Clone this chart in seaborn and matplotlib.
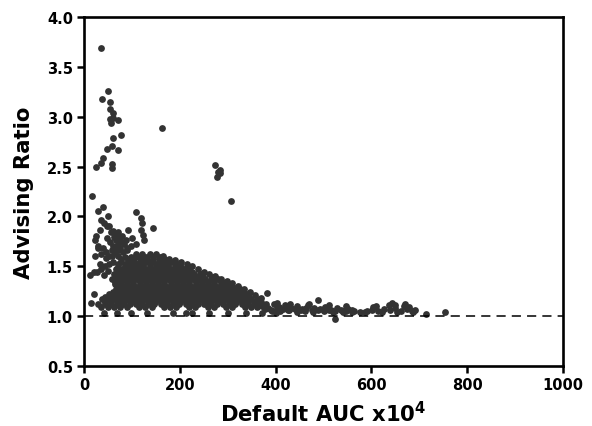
import numpy as np
import pandas as pd
import seaborn as sns
import matplotlib.pyplot as plt

# Values
# sparse points above the main cloud
sparse_x = [35, 51, 37, 54, 54, 61, 54, 61, 70, 56, 77, 60, 58, 49, 70, 40, 35, 25, 58, 59,
            163, 274, 283, 284, 277, 279, 306,
            16, 40, 30, 51, 109, 118, 36, 42, 48, 34, 122, 120, 145, 92, 124, 126, 60, 52, 72, 80, 100]
sparse_y = [3.69, 3.26, 3.18, 3.15, 3.08, 3.04, 2.98, 2.99, 2.97, 2.94, 2.82, 2.79, 2.71, 2.68, 2.67, 2.59, 2.54, 2.50, 2.53, 2.49,
            2.89, 2.52, 2.47, 2.44, 2.40, 2.45, 2.15,
            2.20, 2.09, 2.05, 2.00, 2.04, 1.98, 1.96, 1.93, 1.90, 1.86, 1.93, 1.86, 1.88, 1.86, 1.81, 1.76, 1.85, 1.90, 1.84, 1.80, 1.78]

# strands on the left of the cloud
left_x = [12, 20, 28, 35, 44, 52, 60, 24, 30, 22, 26, 30, 36, 48, 54, 60, 66, 70, 76, 84, 90, 98, 108, 64, 72, 58, 20, 14, 42, 50, 34, 45,
          56, 62, 68, 74, 80, 88, 66, 74, 82, 90, 40, 46, 52, 58]
left_y = [1.41, 1.44, 1.44, 1.47, 1.50, 1.52, 1.54, 1.60, 1.68, 1.76, 1.80, 1.70, 1.62, 1.78, 1.74, 1.70, 1.76, 1.72, 1.68, 1.72, 1.66, 1.70, 1.72, 1.64, 1.60, 1.60, 1.22, 1.13, 1.41, 1.45, 1.52, 1.58,
          1.84, 1.79, 1.82, 1.78, 1.74, 1.76, 1.68, 1.66, 1.64, 1.68, 1.68, 1.64, 1.60, 1.66]

# upper edge of the cloud, further right
edge_x = [165, 178, 190, 202, 214, 226, 238, 250, 262, 274, 286, 298, 310, 322, 334, 346, 358, 370,
          172, 196, 220, 244, 268, 292, 316, 340, 364]
edge_y = [1.60, 1.57, 1.56, 1.54, 1.52, 1.50, 1.47, 1.44, 1.42, 1.40, 1.37, 1.35, 1.33, 1.30, 1.27, 1.24, 1.21, 1.18,
          1.55, 1.52, 1.47, 1.42, 1.37, 1.33, 1.28, 1.22, 1.16]

# main cloud, one list per level
row_162 = [108, 122, 137, 150]
row_157 = [78, 92, 105, 118, 131, 144, 157, 168]
row_152 = [72, 85, 98, 110, 124, 137, 150, 163, 176, 189]
row_147 = [66, 79, 92, 104, 117, 130, 143, 156, 169, 182, 195, 208, 220]
row_142 = [62, 75, 88, 100, 113, 126, 139, 152, 165, 178, 191, 204, 217, 230, 243]
row_137 = [58, 71, 84, 97, 110, 123, 136, 149, 162, 175, 188, 201, 214, 227, 240, 253, 266, 279]
row_132 = [64, 77, 90, 103, 116, 129, 142, 155, 168, 181, 194, 207, 220, 233, 246, 259, 272, 285, 298]
row_127 = [66, 79, 92, 105, 118, 131, 144, 157, 170, 183, 196, 209, 222, 235, 248, 261, 274, 287, 300, 313, 325]
row_122 = [52, 65, 78, 91, 104, 117, 130, 143, 156, 169, 182, 195, 208, 221, 234, 247, 260, 273, 286, 299, 312, 325, 336]
row_117 = [38, 50, 63, 76, 89, 102, 115, 128, 141, 154, 167, 180, 193, 206, 219, 232, 245, 258, 271, 284, 297, 310, 323, 336, 349, 362]
row_112 = [30, 43, 56, 69, 82, 95, 108, 121, 134, 147, 160, 173, 186, 199, 212, 225, 238, 251, 264, 277, 290, 303, 316, 329, 342, 355, 368, 380]
row_103 = [42, 68, 98, 132, 186, 212, 226, 262, 300, 338, 372, 400]

# offset levels that close the gaps in the cloud
row_160 = [85, 98, 115, 130, 144, 158]
row_155 = [78, 91, 104, 117, 130, 143, 156, 170, 182]
row_150 = [72, 85, 98, 111, 124, 137, 150, 163, 176, 189, 202]
row_145 = [68, 81, 94, 107, 120, 133, 146, 159, 172, 185, 198, 211, 226]
row_140 = [66, 79, 92, 105, 118, 131, 144, 157, 170, 183, 196, 209, 222, 235, 248, 270]
row_135 = [64, 77, 90, 103, 116, 129, 142, 155, 168, 181, 194, 207, 220, 233, 246, 259, 272, 287]
row_130 = [70, 83, 96, 109, 122, 135, 148, 161, 174, 187, 200, 213, 226, 239, 252, 265, 278, 291, 304]
row_125 = [60, 72, 85, 98, 111, 124, 137, 150, 163, 176, 189, 202, 215, 228, 241, 254, 267, 280, 293, 306, 319, 332]
row_120 = [44, 58, 71, 84, 97, 110, 123, 136, 149, 162, 175, 188, 201, 214, 227, 240, 253, 266, 279, 292, 305, 318, 331, 344]
row_115 = [44, 57, 70, 83, 96, 109, 122, 135, 148, 161, 174, 187, 200, 213, 226, 239, 252, 265, 278, 291, 304, 317, 330, 343, 356, 370]
row_110 = [36, 50, 63, 76, 89, 115, 128, 141, 167, 180, 193, 219, 232, 258, 271, 297, 310, 336, 349, 362, 376]

# tail to the right
tail_x = [383, 489, 523, 714, 754, 642, 670, 692,
          372, 384, 396, 408, 420, 432, 444, 456, 468, 480, 492, 504, 516, 528, 540, 552, 564, 576,
          590, 602, 614, 626, 638, 650, 662, 674, 684,
          392, 410, 425, 445, 462, 478, 500, 520, 540, 560, 586, 604, 622, 636, 654, 668, 686,
          402, 430, 470, 512, 548, 610, 650, 678,
          378, 390, 403, 416, 428, 440, 452, 464, 476, 488, 500, 512, 524, 536, 548, 560]
tail_y = [1.23, 1.16, 0.97, 1.02, 1.04, 1.13, 1.12, 1.06,
          1.10, 1.08, 1.12, 1.09, 1.11, 1.08, 1.10, 1.07, 1.11, 1.08, 1.07, 1.09, 1.06, 1.08, 1.05, 1.07, 1.05, 1.04,
          1.05, 1.06, 1.05, 1.07, 1.06, 1.08, 1.05, 1.07, 1.05,
          1.05, 1.05, 1.06, 1.04, 1.05, 1.04, 1.05, 1.04, 1.04, 1.04, 1.04, 1.09, 1.04, 1.11, 1.04, 1.10, 1.04,
          1.13, 1.12, 1.12, 1.11, 1.10, 1.10, 1.11, 1.09,
          1.07, 1.06, 1.08, 1.07, 1.06, 1.07, 1.06, 1.08, 1.06, 1.06, 1.07, 1.06, 1.05, 1.06, 1.05, 1.06]

row_levels = [1.62, 1.57, 1.52, 1.47, 1.42, 1.37, 1.32, 1.27, 1.22, 1.17, 1.12, 1.03,
              1.595, 1.545, 1.495, 1.445, 1.395, 1.345, 1.295, 1.245, 1.195, 1.145, 1.095]
rows = [row_162, row_157, row_152, row_147, row_142, row_137, row_132,
        row_127, row_122, row_117, row_112, row_103,
        row_160, row_155, row_150, row_145, row_140, row_135, row_130,
        row_125, row_120, row_115, row_110]

x_ticks = [0, 200, 400, 600, 800, 1000]
y_ticks = [0.5, 1.0, 1.5, 2.0, 2.5, 3.0, 3.5, 4.0]

all_x = list(sparse_x) + list(left_x) + list(edge_x) + list(tail_x)
all_y = list(sparse_y) + list(left_y) + list(edge_y) + list(tail_y)
for level, row in zip(row_levels, rows):
    all_x += row
    all_y += [level] * len(row)
df = pd.DataFrame({'auc': all_x, 'ratio': all_y})

sns.set_style('ticks')
plt.rcParams['font.family'] = ['DejaVu Sans']
plt.rcParams['font.weight'] = 'bold'
plt.rcParams['axes.labelweight'] = 'bold'
plt.rcParams['mathtext.default'] = 'bf'

fig, ax = plt.subplots(figsize=(5.92, 4.27), dpi=100)
sns.scatterplot(data=df, x='auc', y='ratio', color='#333333', s=24, linewidth=0, alpha=1, ax=ax, zorder=2)
ax.axhline(1.0, color='black', lw=1.1, ls=(0, (6, 4)), zorder=3)

ax.set_xlim(0, 1000)
ax.set_ylim(0.5, 4.0)
ax.set_xticks(x_ticks)
ax.set_yticks(y_ticks)
ax.tick_params(width=1.8, length=5, labelsize=10.5, color='black', labelcolor='black', pad=3)
ax.set_xlabel('Default AUC x10$^{4}$', fontsize=15.2, color='black', labelpad=6)
ax.set_ylabel('Advising Ratio', fontsize=15.2, color='black', labelpad=9)
for side in ax.spines.values():
    side.set_linewidth(1.9)
    side.set_color('black')

fig.subplots_adjust(left=84 / 592, right=563 / 592, top=1 - 18 / 427, bottom=1 - 367 / 427)
fig.savefig('out.png', dpi=100)
